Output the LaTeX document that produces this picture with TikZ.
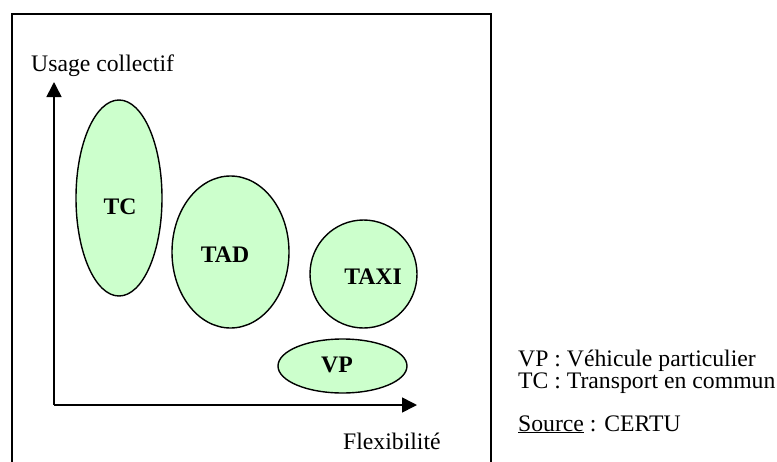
\documentclass[tikz,border=0pt]{standalone}
\usepackage{fontspec}
\setmainfont{Liberation Serif}
\usetikzlibrary{arrows.meta,shapes.geometric}
\definecolor{ellfill}{HTML}{CCFFCC}
\begin{document}
\begin{tikzpicture}[x=1pt,y=-1pt,
  every node/.style={font=\fontsize{23.7}{28}\selectfont, inner sep=0pt},
  ell/.style={ellipse, draw=black, line width=1.4pt, fill=ellfill, inner sep=0pt},
  lbl/.style={font=\fontsize{23.7}{28}\selectfont\bfseries},
  axis/.style={line width=1.6pt, -{Triangle[length=15pt,width=15pt]}}]
\useasboundingbox (0,0) rectangle (777,461);
\draw[line width=1.5pt] (12,475) -- (12,14) -- (491,14) -- (491,475);
\coordinate (o) at (54,405);
\coordinate (ytip) at (54,82);
\coordinate (xtip) at (417,405);
\draw[axis] (o) -- (ytip);
\draw[axis] (o) -- (xtip);
\node[anchor=base west] (ylab) at (31,71) {Usage collectif};
\node[anchor=base west] (xlab) at (343,449) {Flexibilit\'e};
\node[ell, minimum width=86pt, minimum height=196pt] (tc) at (119,198) {};
\node[lbl] (tcl) at (120,207) {TC};
\node[ell, minimum width=117pt, minimum height=152pt] (tad) at (230.5,252) {};
\node[lbl] (tadl) at (225,255) {TAD};
\node[ell, minimum width=107pt, minimum height=108pt] (taxi) at (363.5,274) {};
\node[lbl] (taxil) at (373,277) {TAXI};
\node[ell, minimum width=129pt, minimum height=54pt] (vp) at (342.5,366) {};
\node[lbl] (vpl) at (337,365) {VP};
\node[anchor=base west] (leg1) at (518,366) {VP : V\'ehicule particulier};
\node[anchor=base west] (leg2) at (518,388) {TC : Transport en commun};
\node[anchor=base west] (src) at (518,431) {\underline{Source} : CERTU};
\end{tikzpicture}
\end{document}
